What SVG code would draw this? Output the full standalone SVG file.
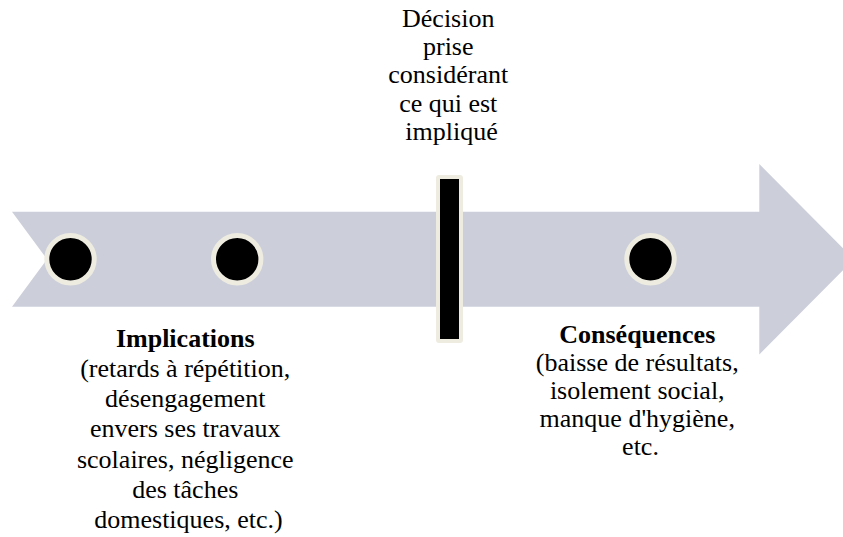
<svg xmlns="http://www.w3.org/2000/svg" width="843" height="537" viewBox="0 0 843 537">
  <style>
    .band { fill: #CCCFDA; }
    .dot { fill: #000000; stroke: #EEECE1; stroke-width: 5; }
    .bar { fill: #000000; stroke: #EEECE1; stroke-width: 4; }
    .txt { font-family: "Liberation Serif", "Times New Roman", serif; font-size: 26px; fill: #000000; text-anchor: middle; }
    .bold { font-weight: bold; }
  </style>
  <rect width="843" height="537" fill="#FFFFFF"/>

  <!-- timeline band: notched tail on the left, arrow head running off the right edge -->
  <g id="connectors">
    <path class="band" d="M12,211.7 L759.3,211.7 L759.3,164 L854,259.2 L759.3,354.5 L759.3,306.7 L12,306.7 L47,259.2 Z"/>
  </g>

  <g id="point-1">
    <circle class="dot" cx="70.5" cy="259.2" r="23.7"/>
  </g>
  <g id="point-2">
    <circle class="dot" cx="237.2" cy="259.2" r="23.7"/>
  </g>
  <g id="decision">
    <rect class="bar" x="438" y="177" width="23" height="164" rx="1"/>
    <text class="txt">
      <tspan x="451.5" y="26.7">Décision</tspan>
      <tspan x="451.5" y="55">prise</tspan>
      <tspan x="451.5" y="83.3">considérant</tspan>
      <tspan x="451.5" y="111.7">ce qui est</tspan>
      <tspan x="451.5" y="140">impliqué</tspan>
    </text>
  </g>
  <g id="point-3">
    <circle class="dot" cx="650.5" cy="259.2" r="23.7"/>
  </g>

  <g id="implications">
    <text class="txt">
      <tspan class="bold" x="188.5" y="346.7">Implications</tspan>
      <tspan x="188.5" y="376.9">(retards à répétition,</tspan>
      <tspan x="188.5" y="407.1">désengagement</tspan>
      <tspan x="188.5" y="437.3">envers ses travaux</tspan>
      <tspan x="188.5" y="467.5">scolaires, négligence</tspan>
      <tspan x="188.5" y="497.7">des tâches</tspan>
      <tspan x="188.5" y="527.9">domestiques, etc.)</tspan>
    </text>
  </g>

  <g id="consequences">
    <text class="txt">
      <tspan class="bold" x="640.5" y="343">Conséquences</tspan>
      <tspan x="640.5" y="371">(baisse de résultats,</tspan>
      <tspan x="640.5" y="399">isolement social,</tspan>
      <tspan x="640.5" y="427">manque d'hygiène,</tspan>
      <tspan x="640.5" y="455">etc.</tspan>
    </text>
  </g>
</svg>
